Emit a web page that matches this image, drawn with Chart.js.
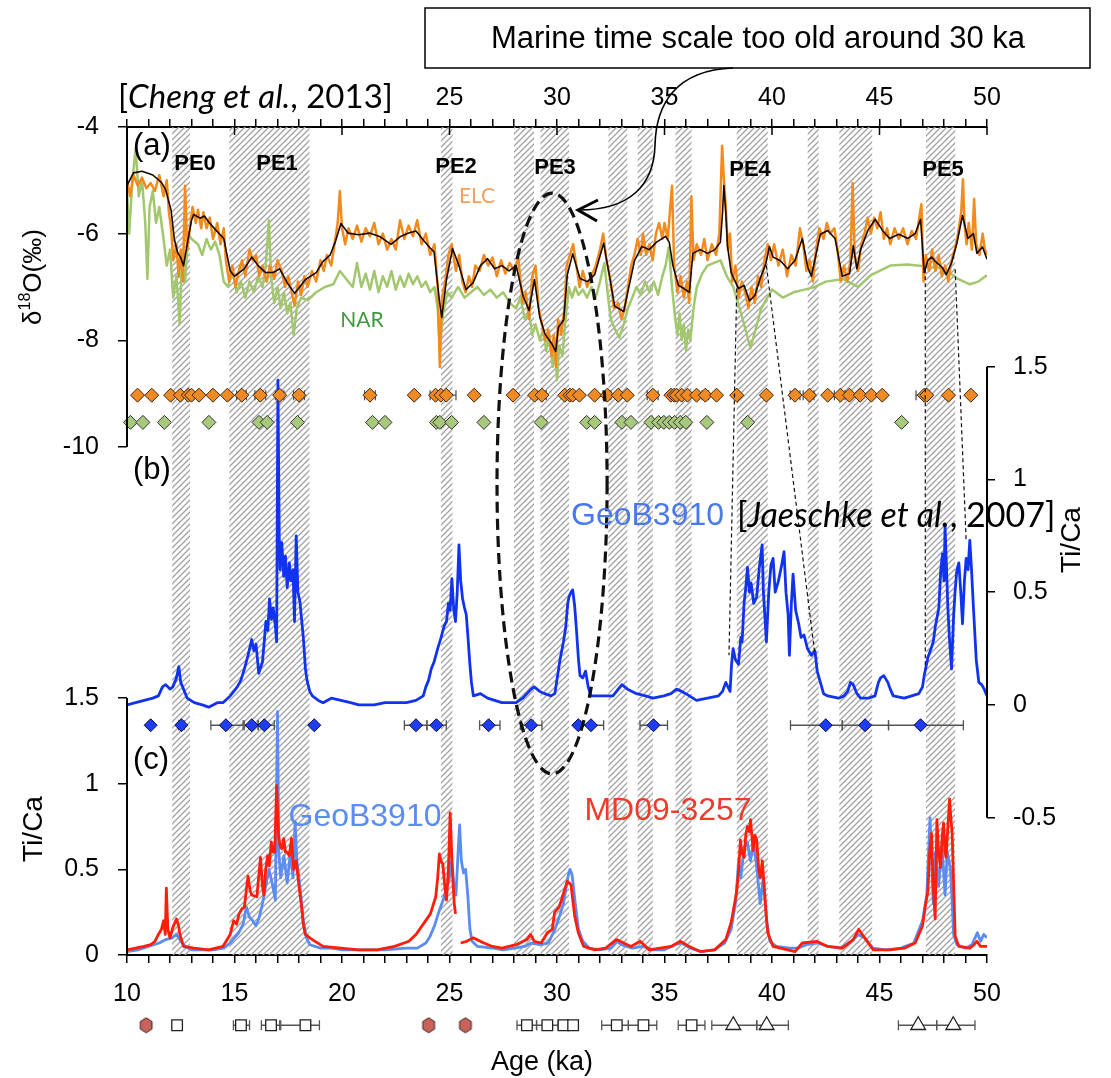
<!DOCTYPE html>
<html>
<head>
<meta charset="utf-8">
<script src="https://cdn.jsdelivr.net/npm/chart.js@4.4.1/dist/chart.umd.min.js"></script>
<style>
  html, body { margin: 0; padding: 0; background: #fff; }
  #c { display: block; }
</style>
</head>
<body>
<canvas id="c" width="1111" height="1078"></canvas>
<script>
// ---- tick labels ----
const ageTicks = [10, 15, 20, 25, 30, 35, 40, 45, 50];
const d18OTicks = [-10, -8, -6, -4];
const tiCaTicksB = [-0.5, 0, 0.5, 1, 1.5];
const tiCaTicksC = [0, 0.5, 1, 1.5];

// ---- shaded (hatched) age intervals, ka ----
const ageBands = [[12.1, 12.93], [14.76, 18.49], [24.6, 25.14], [28.0, 28.93], [29.23, 30.56],
  [32.39, 33.27], [33.75, 34.46], [35.51, 36.26], [38.36, 39.8], [41.66, 42.17], [43.13, 44.66], [47.16, 48.52]];

// ---- (a) speleothem d18O, [age ka, permil] ----
const elcSmooth = [[10.0,-5.1],[10.3,-4.86],[10.7,-4.83],[11.2,-4.9],[11.6,-5.04],[11.8,-5.18],[12.05,-5.56],[12.2,-6.1],[12.35,-6.35],[12.5,-6.45],[12.63,-6.6],[12.8,-6.2],[13.0,-5.75],[13.1,-5.64],[13.4,-5.71],[13.6,-5.67],[13.8,-5.78],[14.1,-5.92],[14.5,-6.09],[14.8,-6.7],[15.0,-6.8],[15.45,-6.66],[15.8,-6.44],[16.1,-6.6],[16.45,-6.73],[16.8,-6.73],[17.1,-6.66],[17.45,-6.92],[17.8,-7.12],[18.05,-6.99],[18.3,-6.86],[18.8,-6.73],[19.1,-6.53],[19.45,-6.4],[19.7,-6.14],[19.95,-5.81],[20.28,-5.99],[20.78,-6.02],[21.28,-5.99],[21.78,-6.06],[22.28,-6.2],[22.7,-6.06],[23.1,-5.99],[23.44,-5.95],[23.8,-6.13],[24.1,-6.27],[24.28,-6.34],[24.53,-7.25],[24.64,-7.57],[24.86,-6.86],[25.14,-6.28],[25.44,-6.6],[25.77,-7.05],[26.1,-6.92],[26.44,-6.6],[26.77,-6.47],[27.1,-6.66],[27.44,-6.6],[27.77,-6.7],[28.1,-6.6],[28.43,-7.18],[28.7,-7.44],[28.95,-6.86],[29.2,-7.57],[29.45,-7.89],[29.78,-8.08],[29.94,-8.21],[30.06,-7.76],[30.31,-7.62],[30.48,-6.77],[30.73,-6.38],[31.07,-6.84],[31.41,-6.9],[31.75,-6.77],[32.17,-6.18],[32.43,-6.77],[32.68,-7.36],[33.1,-7.46],[33.36,-6.97],[33.61,-6.5],[33.95,-6.24],[34.29,-6.3],[34.63,-6.16],[35.05,-6.05],[35.22,-6.16],[35.39,-6.6],[35.65,-6.97],[35.9,-7.03],[36.16,-7.1],[36.32,-6.37],[36.66,-6.3],[37.0,-6.37],[37.34,-6.3],[37.6,-6.16],[37.7,-5.6],[37.76,-5.1],[37.85,-5.6],[37.93,-6.23],[38.1,-6.73],[38.44,-7.03],[38.7,-6.97],[38.95,-7.26],[39.2,-7.16],[39.46,-6.83],[39.71,-6.57],[39.88,-6.24],[40.05,-6.44],[40.39,-6.51],[40.73,-6.66],[41.07,-6.5],[41.41,-6.09],[41.66,-6.62],[41.83,-6.8],[42.25,-6.01],[42.59,-5.94],[42.93,-6.09],[43.27,-6.8],[43.61,-6.75],[43.78,-6.23],[43.95,-6.66],[44.12,-6.3],[44.46,-5.94],[44.8,-5.73],[45.14,-5.94],[45.47,-6.09],[45.9,-6.01],[46.32,-6.09],[46.66,-6.0],[46.91,-5.73],[47.08,-6.73],[47.25,-6.5],[47.42,-6.44],[47.67,-6.55],[47.93,-6.64],[48.1,-6.77],[48.35,-6.55],[48.6,-6.18],[48.86,-5.66],[49.11,-6.09],[49.37,-6.0],[49.53,-6.37],[49.79,-6.25],[50.0,-6.48]];

const elcO18 = [[10.0,-5.0],[10.15,-5.3],[10.3,-4.9],[10.5,-5.1],[10.7,-4.95],[10.9,-5.15],[11.1,-5.05],[11.3,-5.2],[11.5,-4.9],[11.7,-5.3],[11.85,-5.0],[11.95,-5.6],[12.05,-5.9],[12.15,-6.5],[12.3,-6.2],[12.4,-6.8],[12.5,-6.3],[12.6,-6.9],[12.7,-5.1],[12.8,-6.3],[12.95,-5.8],[13.05,-5.5],[13.2,-5.8],[13.3,-5.55],[13.45,-5.9],[13.55,-5.6],[13.7,-5.9],[13.85,-5.7],[14.0,-6.1],[14.2,-5.8],[14.35,-6.2],[14.5,-5.9],[14.6,-6.5],[14.75,-6.9],[14.9,-6.6],[15.05,-7.0],[15.2,-6.7],[15.35,-6.5],[15.5,-6.8],[15.7,-6.3],[15.85,-6.5],[16.0,-6.4],[16.15,-6.8],[16.3,-6.6],[16.5,-6.9],[16.65,-6.6],[16.85,-6.85],[17.0,-6.5],[17.2,-6.7],[17.35,-7.0],[17.5,-6.8],[17.65,-7.1],[17.8,-7.35],[17.95,-6.9],[18.1,-7.15],[18.25,-6.8],[18.4,-7.0],[18.6,-6.7],[18.8,-6.9],[19.0,-6.5],[19.15,-6.7],[19.3,-6.4],[19.5,-6.6],[19.65,-6.2],[19.8,-5.8],[19.9,-5.2],[20.0,-5.9],[20.15,-6.2],[20.3,-5.9],[20.5,-6.1],[20.7,-5.85],[20.9,-6.15],[21.1,-5.9],[21.3,-6.05],[21.5,-5.8],[21.7,-6.2],[21.9,-6.0],[22.1,-6.3],[22.3,-6.1],[22.5,-6.3],[22.7,-5.75],[22.9,-6.1],[23.1,-5.85],[23.3,-6.05],[23.5,-5.75],[23.7,-6.2],[23.9,-6.0],[24.1,-6.4],[24.3,-6.2],[24.45,-7.0],[24.55,-8.5],[24.65,-7.2],[24.8,-6.9],[24.95,-6.4],[25.1,-6.2],[25.3,-6.7],[25.45,-6.4],[25.6,-6.9],[25.75,-7.1],[25.9,-6.8],[26.05,-7.0],[26.2,-6.6],[26.4,-6.7],[26.6,-6.4],[26.8,-6.6],[27.0,-6.45],[27.2,-6.8],[27.4,-6.5],[27.6,-6.75],[27.8,-6.55],[28.0,-6.7],[28.2,-6.45],[28.4,-7.3],[28.55,-7.1],[28.7,-7.6],[28.85,-6.8],[29.0,-6.6],[29.15,-7.4],[29.3,-7.7],[29.45,-8.0],[29.6,-7.8],[29.75,-8.3],[29.85,-7.9],[29.95,-8.5],[30.05,-7.6],[30.2,-7.9],[30.35,-7.4],[30.45,-6.6],[30.6,-6.4],[30.75,-6.2],[30.9,-6.6],[31.05,-7.0],[31.2,-6.7],[31.4,-7.0],[31.6,-6.8],[31.8,-6.6],[32.0,-6.3],[32.15,-6.0],[32.3,-6.5],[32.5,-6.9],[32.65,-7.4],[32.85,-7.3],[33.0,-7.6],[33.15,-7.4],[33.3,-7.0],[33.45,-6.6],[33.6,-6.4],[33.75,-6.1],[33.9,-6.4],[34.0,-6.0],[34.15,-6.4],[34.3,-6.2],[34.45,-6.5],[34.6,-6.0],[34.75,-5.8],[34.9,-6.1],[35.0,-5.8],[35.15,-6.1],[35.35,-5.1],[35.45,-6.6],[35.6,-7.1],[35.75,-6.8],[35.9,-7.2],[36.05,-6.9],[36.15,-7.3],[36.25,-5.3],[36.35,-6.5],[36.5,-6.2],[36.7,-6.4],[36.85,-6.1],[37.0,-6.5],[37.2,-6.2],[37.4,-6.4],[37.55,-6.0],[37.68,-4.35],[37.75,-4.9],[37.85,-5.5],[37.95,-6.3],[38.05,-6.0],[38.15,-6.9],[38.3,-6.6],[38.45,-7.2],[38.6,-6.9],[38.75,-7.1],[38.9,-7.4],[39.05,-7.0],[39.2,-7.3],[39.35,-6.8],[39.5,-7.0],[39.65,-6.5],[39.8,-6.2],[39.95,-6.5],[40.1,-6.2],[40.3,-6.6],[40.5,-6.3],[40.7,-6.8],[40.9,-6.4],[41.1,-6.6],[41.3,-5.9],[41.45,-6.2],[41.6,-6.7],[41.75,-6.5],[41.9,-6.9],[42.05,-6.3],[42.2,-5.9],[42.4,-6.1],[42.55,-5.8],[42.7,-6.0],[42.9,-5.9],[43.05,-6.3],[43.2,-6.9],[43.35,-6.6],[43.5,-6.9],[43.65,-6.5],[43.75,-5.05],[43.85,-6.4],[44.0,-6.7],[44.15,-6.2],[44.3,-6.0],[44.45,-5.7],[44.6,-6.0],[44.75,-5.7],[44.9,-5.9],[45.05,-5.6],[45.2,-6.1],[45.35,-5.9],[45.5,-6.2],[45.7,-5.9],[45.9,-6.1],[46.1,-5.9],[46.3,-6.2],[46.5,-5.95],[46.7,-6.1],[46.85,-5.7],[46.95,-5.45],[47.05,-6.9],[47.15,-6.4],[47.3,-6.7],[47.45,-6.3],[47.6,-6.7],[47.75,-6.4],[47.9,-6.8],[48.05,-6.6],[48.2,-6.9],[48.35,-6.5],[48.5,-6.3],[48.65,-6.0],[48.8,-5.6],[48.88,-4.98],[48.95,-5.8],[49.05,-6.2],[49.15,-5.8],[49.3,-6.3],[49.4,-5.35],[49.5,-6.2],[49.65,-6.4],[49.8,-6.0],[49.9,-6.3],[50.0,-6.4]];

const narO18 = [[10.0,-5.2],[10.1,-6.0],[10.25,-5.0],[10.4,-4.4],[10.55,-5.3],[10.7,-5.0],[10.85,-5.8],[10.95,-6.85],[11.05,-5.5],[11.2,-5.2],[11.35,-5.8],[11.5,-5.5],[11.7,-6.1],[11.85,-6.6],[12.0,-6.3],[12.15,-7.2],[12.3,-6.8],[12.45,-7.7],[12.55,-6.5],[12.7,-6.9],[12.85,-6.0],[13.0,-6.1],[13.3,-6.2],[13.5,-6.4],[13.7,-6.1],[13.9,-6.3],[14.1,-6.15],[14.3,-6.4],[14.5,-6.9],[14.7,-7.0],[14.9,-6.7],[15.1,-7.1],[15.3,-6.9],[15.5,-7.2],[15.7,-6.9],[15.9,-7.1],[16.1,-6.8],[16.3,-7.0],[16.45,-6.6],[16.6,-5.75],[16.7,-6.8],[16.85,-7.3],[17.0,-7.0],[17.15,-7.4],[17.3,-7.1],[17.45,-7.5],[17.6,-7.3],[17.75,-7.9],[17.9,-7.4],[18.1,-7.2],[18.4,-7.25],[18.8,-7.1],[19.2,-7.0],[19.6,-6.95],[19.9,-6.7],[20.2,-6.85],[20.5,-7.0],[20.7,-6.55],[20.9,-7.0],[21.1,-6.75],[21.3,-7.05],[21.5,-6.7],[21.7,-7.1],[21.9,-6.8],[22.1,-7.0],[22.3,-6.7],[22.5,-7.05],[22.7,-6.8],[22.9,-7.0],[23.1,-6.75],[23.3,-6.95],[23.5,-6.8],[23.7,-7.0],[23.9,-6.9],[24.1,-7.1],[24.3,-7.0],[24.45,-7.4],[24.55,-8.15],[24.7,-7.5],[24.9,-7.1],[25.1,-7.2],[25.4,-7.0],[25.7,-7.2],[26.0,-7.1],[26.3,-7.0],[26.6,-7.15],[26.9,-7.05],[27.2,-7.2],[27.5,-7.1],[27.8,-7.3],[28.1,-7.4],[28.3,-7.2],[28.5,-7.6],[28.7,-7.5],[28.85,-7.9],[29.0,-7.7],[29.2,-8.0],[29.35,-7.8],[29.5,-8.2],[29.65,-7.9],[29.8,-8.5],[29.9,-8.0],[30.0,-8.75],[30.1,-8.1],[30.25,-8.3],[30.4,-7.6],[30.55,-7.0],[30.7,-7.2],[30.85,-7.0],[31.0,-7.15],[31.2,-7.05],[31.4,-7.2],[31.6,-7.0],[31.8,-7.2],[32.0,-6.9],[32.2,-6.55],[32.35,-7.1],[32.5,-7.6],[32.7,-7.8],[32.9,-7.95],[33.1,-7.7],[33.3,-7.4],[33.5,-7.2],[33.7,-7.0],[33.9,-7.15],[34.1,-6.9],[34.3,-7.1],[34.5,-6.9],[34.7,-7.15],[34.9,-6.8],[35.05,-6.6],[35.2,-6.25],[35.35,-7.0],[35.5,-7.6],[35.6,-7.9],[35.7,-7.5],[35.8,-8.0],[35.9,-7.7],[36.0,-8.2],[36.1,-7.8],[36.2,-8.0],[36.35,-7.4],[36.5,-7.0],[36.75,-6.75],[37.0,-6.6],[37.3,-6.55],[37.6,-6.5],[37.9,-6.8],[38.2,-7.0],[38.6,-7.55],[39.0,-8.15],[39.5,-7.4],[40.0,-7.05],[40.5,-7.2],[41.0,-7.1],[41.5,-7.05],[42.0,-7.0],[42.5,-6.9],[43.3,-6.85],[44.0,-7.0],[44.6,-6.78],[45.5,-6.6],[46.3,-6.58],[47.3,-6.62],[48.0,-6.65],[48.6,-6.84],[49.2,-6.95],[49.6,-6.9],[50.0,-6.78]];

// ---- (b) GeoB3910 Ti/Ca, original age model ----
const geoTiCaB = [[10.0,0.0],[10.4,0.01],[10.8,0.02],[11.2,0.03],[11.46,0.04],[11.65,0.08],[11.8,0.09],[12.0,0.07],[12.13,0.08],[12.3,0.12],[12.41,0.17],[12.5,0.1],[12.63,0.07],[12.8,0.03],[13.13,0.01],[13.5,0.0],[13.8,-0.01],[14.2,0.01],[14.46,0.01],[14.8,0.04],[15.13,0.08],[15.3,0.11],[15.46,0.16],[15.63,0.22],[15.8,0.29],[15.9,0.24],[16.0,0.27],[16.13,0.14],[16.3,0.19],[16.4,0.3],[16.46,0.37],[16.55,0.33],[16.63,0.47],[16.72,0.38],[16.8,0.43],[16.9,0.35],[16.96,0.28],[17.02,1.44],[17.08,0.75],[17.12,0.6],[17.2,0.72],[17.29,0.57],[17.37,0.66],[17.45,0.52],[17.55,0.63],[17.62,0.55],[17.72,0.6],[17.79,0.37],[17.87,0.75],[17.95,0.5],[18.04,0.46],[18.12,0.38],[18.2,0.3],[18.3,0.16],[18.37,0.11],[18.5,0.06],[18.62,0.04],[18.9,0.02],[19.12,0.01],[19.5,0.03],[19.95,0.02],[20.4,0.01],[20.78,0.0],[21.5,0.0],[22.0,0.01],[22.45,0.01],[23.0,0.01],[23.44,0.02],[23.78,0.04],[23.9,0.08],[24.03,0.11],[24.15,0.16],[24.28,0.19],[24.45,0.25],[24.61,0.3],[24.75,0.35],[24.86,0.37],[24.95,0.45],[25.03,0.42],[25.11,0.56],[25.2,0.42],[25.28,0.37],[25.36,0.5],[25.44,0.71],[25.52,0.55],[25.61,0.47],[25.7,0.43],[25.78,0.4],[25.86,0.3],[25.94,0.19],[26.02,0.1],[26.11,0.04],[26.44,0.05],[26.77,0.03],[27.1,0.02],[27.44,0.01],[28.1,0.01],[28.4,0.03],[28.6,0.05],[28.8,0.07],[28.94,0.08],[29.2,0.06],[29.43,0.05],[29.72,0.04],[29.9,0.05],[30.14,0.2],[30.3,0.28],[30.4,0.34],[30.5,0.45],[30.56,0.48],[30.65,0.5],[30.73,0.51],[30.82,0.44],[30.9,0.34],[31.0,0.2],[31.07,0.13],[31.2,0.12],[31.33,0.15],[31.45,0.08],[31.58,0.04],[32.09,0.04],[32.6,0.04],[32.85,0.07],[33.02,0.09],[33.15,0.08],[33.28,0.07],[33.7,0.05],[34.12,0.04],[34.46,0.03],[34.97,0.04],[35.3,0.05],[35.56,0.07],[35.8,0.06],[35.99,0.05],[36.49,0.02],[37.0,0.03],[37.51,0.04],[37.7,0.06],[37.85,0.1],[37.95,0.08],[38.05,0.06],[38.12,0.18],[38.19,0.25],[38.3,0.2],[38.44,0.18],[38.55,0.3],[38.61,0.28],[38.7,0.45],[38.78,0.52],[38.86,0.61],[38.95,0.5],[39.03,0.54],[39.15,0.45],[39.29,0.48],[39.4,0.6],[39.54,0.71],[39.6,0.5],[39.74,0.28],[39.85,0.5],[39.95,0.62],[40.05,0.65],[40.15,0.5],[40.3,0.55],[40.45,0.62],[40.56,0.68],[40.65,0.5],[40.75,0.4],[40.81,0.22],[40.9,0.45],[40.98,0.58],[41.1,0.42],[41.24,0.36],[41.35,0.3],[41.49,0.31],[41.65,0.25],[41.83,0.22],[42.0,0.24],[42.1,0.15],[42.25,0.1],[42.4,0.05],[42.59,0.04],[43.1,0.03],[43.35,0.04],[43.52,0.06],[43.65,0.1],[43.78,0.09],[43.95,0.05],[44.12,0.03],[44.5,0.03],[44.79,0.04],[44.95,0.1],[45.05,0.12],[45.2,0.13],[45.39,0.1],[45.5,0.07],[45.64,0.04],[46.15,0.03],[46.5,0.04],[46.83,0.05],[47.0,0.08],[47.08,0.13],[47.25,0.21],[47.4,0.25],[47.5,0.28],[47.6,0.35],[47.76,0.43],[47.85,0.6],[47.93,0.67],[48.0,0.55],[48.05,0.79],[48.12,0.6],[48.18,0.43],[48.25,0.3],[48.35,0.16],[48.45,0.4],[48.52,0.51],[48.6,0.6],[48.69,0.63],[48.78,0.5],[48.86,0.36],[48.95,0.55],[49.03,0.65],[49.12,0.6],[49.2,0.73],[49.28,0.6],[49.37,0.43],[49.5,0.2],[49.62,0.1],[49.75,0.09],[49.87,0.07],[50.0,0.04]];

// ---- (c) Ti/Ca on the new age model ----
const geoTiCaC = [[10.0,0.02],[10.5,0.03],[11.0,0.05],[11.5,0.07],[11.8,0.09],[12.1,0.1],[12.3,0.12],[12.5,0.08],[12.7,0.05],[13.0,0.03],[13.5,0.03],[14.0,0.03],[14.5,0.04],[14.8,0.07],[15.0,0.1],[15.2,0.13],[15.4,0.18],[15.55,0.28],[15.7,0.22],[15.85,0.2],[16.0,0.17],[16.15,0.22],[16.3,0.3],[16.45,0.4],[16.6,0.5],[16.75,0.42],[16.9,0.32],[17.0,1.42],[17.06,0.6],[17.15,0.45],[17.3,0.58],[17.45,0.42],[17.6,0.6],[17.72,0.45],[17.82,0.78],[17.9,0.55],[18.0,0.45],[18.1,0.33],[18.2,0.2],[18.35,0.1],[18.5,0.06],[19.0,0.04],[19.5,0.04],[20.0,0.03],[21.0,0.03],[22.0,0.03],[23.0,0.04],[23.5,0.04],[23.9,0.07],[24.1,0.11],[24.3,0.17],[24.5,0.25],[24.7,0.32],[24.85,0.38],[25.0,0.45],[25.1,0.55],[25.2,0.42],[25.3,0.35],[25.4,0.6],[25.47,0.76],[25.55,0.55],[25.65,0.48],[25.75,0.5],[25.85,0.35],[25.95,0.15],[26.05,0.08],[26.3,0.05],[27.0,0.04],[27.5,0.03],[28.0,0.04],[28.5,0.05],[28.8,0.07],[29.2,0.06],[29.6,0.07],[29.9,0.15],[30.1,0.22],[30.3,0.3],[30.5,0.45],[30.6,0.5],[30.7,0.47],[30.85,0.3],[31.0,0.15],[31.2,0.08],[31.5,0.04],[32.0,0.03],[32.5,0.04],[32.8,0.08],[33.0,0.06],[33.5,0.04],[34.0,0.05],[34.5,0.03],[35.0,0.03],[35.5,0.06],[35.8,0.07],[36.2,0.04],[36.7,0.02],[37.3,0.03],[37.8,0.07],[38.1,0.15],[38.3,0.3],[38.45,0.55],[38.55,0.45],[38.7,0.62],[38.85,0.66],[39.0,0.55],[39.15,0.66],[39.3,0.5],[39.45,0.3],[39.6,0.45],[39.75,0.2],[39.9,0.08],[40.2,0.05],[40.8,0.04],[41.2,0.04],[41.6,0.06],[42.1,0.07],[42.6,0.05],[43.2,0.04],[43.7,0.08],[44.0,0.12],[44.3,0.1],[44.7,0.04],[45.3,0.03],[46.0,0.04],[46.6,0.07],[47.0,0.2],[47.2,0.35],[47.35,0.8],[47.5,0.3],[47.6,0.6],[47.75,0.4],[47.9,0.65],[48.05,0.35],[48.15,0.6],[48.3,0.5],[48.45,0.12],[48.6,0.06],[49.0,0.04],[49.3,0.06],[49.55,0.13],[49.7,0.08],[49.85,0.12],[50.0,0.1]];

const mdTiCa = [[10.0,0.03],[10.4,0.04],[10.8,0.05],[11.1,0.06],[11.3,0.08],[11.46,0.12],[11.6,0.15],[11.7,0.2],[11.78,0.12],[11.83,0.39],[11.9,0.15],[12.0,0.1],[12.13,0.16],[12.3,0.21],[12.4,0.17],[12.46,0.12],[12.63,0.05],[13.13,0.04],[13.8,0.03],[14.46,0.05],[14.8,0.12],[14.96,0.2],[15.1,0.18],[15.21,0.24],[15.35,0.27],[15.46,0.28],[15.55,0.38],[15.63,0.46],[15.72,0.38],[15.8,0.35],[16.04,0.34],[16.12,0.45],[16.21,0.57],[16.3,0.4],[16.37,0.35],[16.45,0.5],[16.54,0.58],[16.62,0.52],[16.71,0.66],[16.8,0.6],[16.87,0.6],[16.96,0.99],[17.05,0.7],[17.12,0.64],[17.2,0.62],[17.29,0.68],[17.37,0.6],[17.45,0.6],[17.55,0.58],[17.65,0.68],[17.75,0.5],[17.87,0.55],[18.0,0.4],[18.12,0.28],[18.2,0.18],[18.29,0.12],[18.62,0.09],[19.12,0.05],[19.95,0.04],[20.78,0.03],[21.61,0.03],[22.45,0.05],[23.11,0.08],[23.44,0.12],[23.78,0.18],[24.11,0.24],[24.36,0.34],[24.45,0.45],[24.53,0.59],[24.6,0.55],[24.69,0.53],[24.78,0.4],[24.86,0.32],[24.95,0.5],[25.03,0.83],[25.1,0.6],[25.16,0.43],[25.22,0.3],[25.28,0.24],[25.4,null],[25.52,0.07],[25.8,0.08],[26.11,0.1],[26.6,0.07],[27.0,0.05],[27.44,0.04],[28.1,0.06],[28.6,0.09],[28.77,0.12],[28.94,0.08],[29.27,0.07],[29.55,0.13],[29.78,0.15],[29.89,0.25],[30.1,0.28],[30.23,0.33],[30.35,0.38],[30.48,0.43],[30.65,0.41],[30.82,0.23],[30.99,0.13],[31.24,0.05],[31.75,0.03],[32.26,0.04],[32.77,0.09],[33.1,0.07],[33.44,0.05],[33.87,0.08],[34.29,0.03],[34.8,0.04],[35.31,0.05],[35.73,0.08],[36.15,0.05],[36.66,0.02],[37.34,0.03],[37.85,0.09],[38.1,0.19],[38.36,0.37],[38.45,0.5],[38.53,0.67],[38.6,0.6],[38.7,0.57],[38.78,0.7],[38.86,0.75],[38.95,0.72],[39.0,0.79],[39.12,0.61],[39.2,0.7],[39.29,0.67],[39.38,0.5],[39.46,0.45],[39.55,0.55],[39.63,0.41],[39.72,0.25],[39.8,0.13],[40.05,0.05],[40.73,0.03],[41.07,0.02],[41.41,0.07],[42.08,0.08],[42.59,0.05],[43.27,0.04],[43.78,0.09],[44.03,0.15],[44.2,0.12],[44.37,0.09],[44.71,0.03],[45.47,0.03],[46.15,0.04],[46.66,0.07],[47.0,0.17],[47.15,0.3],[47.25,0.37],[47.33,0.6],[47.42,0.71],[47.5,0.4],[47.59,0.21],[47.67,0.79],[47.75,0.6],[47.84,0.51],[47.92,0.7],[47.98,0.77],[48.05,0.6],[48.1,0.57],[48.18,0.75],[48.26,0.91],[48.32,0.8],[48.38,0.71],[48.45,0.4],[48.52,0.11],[48.69,0.05],[49.2,0.04],[49.4,0.06],[49.53,0.08],[49.7,0.05],[49.9,0.05],[50.0,0.05]];

// ---- dating points: [age, lower, upper] (bounds only where an error bar shows) ----
const elcDates = [[10.49],[11.15],[12.03],[12.48],[12.85],[13.0],[13.35],[14.0],[14.67],[15.34,15.1,15.55],[16.2,15.95,16.45],[17.1,16.9,17.3],[18.0,17.75,18.25],[21.3,21.05,21.55],[23.36],[24.35,24.1,24.6],[24.6],[24.85,24.6,25.3],[26.15],[27.96],[28.96],[29.3,29.1,29.5],[30.36],[30.6],[30.73],[31.04],[31.75],[32.34,32.15,32.5],[32.85],[33.27],[34.46,34.2,34.7],[35.3],[35.45],[35.56],[35.8],[36.07],[36.49],[36.9,36.75,37.05],[37.42],[38.36],[39.74],[41.07,40.85,41.3],[41.74,41.45,41.95],[42.59],[43.18,42.9,43.4],[43.6],[44.1],[44.62],[45.13],[47.08,46.7,47.3],[47.2],[48.21],[49.25]];
const narDates = [[10.16],[10.74],[11.74],[13.81],[16.14],[16.52],[17.93],[21.42],[22.0],[24.39],[24.55],[25.1],[26.6],[29.26],[31.38],[31.75],[33.02],[33.44],[34.37],[34.72],[34.97],[35.22],[35.47],[35.73],[35.99],[36.97],[38.87],[46.03]];
const geoDates = [[11.1],[12.53,12.4,12.66],[14.6,13.9,15.4],[15.8,15.45,16.1],[16.39,16.1,16.85],[18.71],[23.44,22.9,23.95],[24.39,23.95,24.85],[26.82,26.4,27.35],[28.8,28.3,29.3],[30.99],[31.58,31.1,32.17],[34.49,33.86,35.14],[42.5,40.86,43.27],[44.33,43.27,45.42],[46.91,45.42,48.9]];
const mdC14Dates = [[10.89],[24.03],[25.74]];
const mdTieSquares = [[12.33],[15.3,14.95,15.7],[16.7,16.25,17.1],[18.3,17.15,18.95],[28.6,28.14,29.05],[29.55,29.05,30.05],[30.3],[30.75],[32.78,32.08,33.32],[34.02,33.32,34.64],[36.26,35.64,36.88]];
const mdTieTriangles = [[38.2,37.2,39.29],[39.75,39.29,40.76],[46.8,45.88,47.66],[48.43,47.66,49.44]];

// ---- guide lines between panels (a) and (b): [age_a, d18O, age_b, Ti/Ca] ----
const guideLinks = [[38.36,-7.03,38.0,0.22],[39.74,-6.6,42.0,0.22],[47.13,-6.67,47.13,0.16],[48.52,-6.67,49.03,0.73]];

// ---- axis geometry (panels share one plot area, each axis covers part of it) ----
const D18O_MIN = -19.53, D18O_MAX = -4;
const TICA_B_MIN = -1.109, TICA_B_MAX = 2.563;
const TICA_C_MIN = 0, TICA_C_MAX = 4.833;
const ELC_ROW = -9.03, NAR_ROW = -9.54, GEO_ROW = -0.09, MD_ROW = -0.41;

const FONT = 'Liberation Sans';

function pts(arr) { return arr.map(d => ({ x: d[0], y: d[1] })); }
function row(arr, yv) { return arr.map(d => ({ x: d[0], y: yv })); }
function bars(arr) { return arr.map(d => d.length > 1 ? [d[1], d[2]] : null); }

function hexagon() {
  const c = document.createElement('canvas');
  c.width = 16; c.height = 17;
  const g = c.getContext('2d');
  g.beginPath();
  for (let k = 0; k < 6; k++) {
    const a = Math.PI / 2 + k * Math.PI / 3;
    const px = 8 + 6.8 * Math.cos(a), py = 8.5 - 7.5 * Math.sin(a);
    k ? g.lineTo(px, py) : g.moveTo(px, py);
  }
  g.closePath();
  g.fillStyle = '#c8625a'; g.fill();
  g.strokeStyle = '#3a2020'; g.lineWidth = 1; g.stroke();
  return c;
}

function lineSet(data, color, width, yAxisID) {
  return { data: pts(data), yAxisID, xAxisID: 'x', showLine: true, borderColor: color,
    borderWidth: width, pointRadius: 0, tension: 0, spanGaps: false, borderJoinStyle: 'round' };
}
function markSet(dates, yv, yAxisID, style) {
  return Object.assign({ data: row(dates, yv), xerr: bars(dates), yAxisID, xAxisID: 'x',
    showLine: false, clip: false }, style);
}

// first dataset is drawn on top
const datasets = [
  markSet(elcDates, ELC_ROW, 'ya', { pointStyle: 'rectRot', pointRadius: 7, backgroundColor: '#f08a24', borderColor: '#3a2410', borderWidth: 1 }),
  markSet(narDates, NAR_ROW, 'ya', { pointStyle: 'rectRot', pointRadius: 7, backgroundColor: '#a8c87c', borderColor: '#333', borderWidth: 1 }),
  markSet(geoDates, GEO_ROW, 'yb', { pointStyle: 'rectRot', pointRadius: 6.5, backgroundColor: '#1e3cf0', borderColor: '#0a0a50', borderWidth: 1 }),
  markSet(mdC14Dates, MD_ROW, 'yc', { pointStyle: hexagon(), pointRadius: 7, belowAxis: true }),
  markSet(mdTieSquares, MD_ROW, 'yc', { pointStyle: 'rect', pointRadius: 7.5, backgroundColor: '#fff', borderColor: '#222', borderWidth: 1.3, belowAxis: true }),
  markSet(mdTieTriangles, MD_ROW, 'yc', { pointStyle: 'triangle', pointRadius: 8.5, backgroundColor: '#fff', borderColor: '#222', borderWidth: 1.3, belowAxis: true }),
  lineSet(elcSmooth, '#1a0800', 1.6, 'ya'),
  lineSet(elcO18, '#f28a1e', 2.5, 'ya'),
  lineSet(narO18, '#a3c76e', 2.5, 'ya'),
  lineSet(geoTiCaB, '#1233ee', 2.8, 'yb'),
  lineSet(mdTiCa, '#ff1e0a', 2.8, 'yc'),
  lineSet(geoTiCaC, '#5a8cf2', 2.8, 'yc')
];

// the (c) axis sits on top of the (a) axis: widen its box after layout so its labels are not clipped
const axisBoxPlugin = {
  id: 'axisBox',
  afterLayout(chart) {
    const s = chart.scales.yc;
    s.left = 0;
    s.width = s.right;
  }
};

let hatchPattern = null;
const bandsPlugin = {
  id: 'bands',
  beforeDatasetsDraw(chart) {
    const { ctx, chartArea, scales } = chart;
    if (!hatchPattern) {
      const c = document.createElement('canvas');
      c.width = c.height = 6;
      const g = c.getContext('2d');
      g.strokeStyle = '#a2a2a2'; g.lineWidth = 1.3;
      g.beginPath();
      g.moveTo(0, 6); g.lineTo(6, 0);
      g.moveTo(-3, 3); g.lineTo(3, -3);
      g.moveTo(3, 9); g.lineTo(9, 3);
      g.stroke();
      hatchPattern = ctx.createPattern(c, 'repeat');
    }
    ctx.save();
    ctx.fillStyle = hatchPattern;
    ageBands.forEach(([a, b]) => {
      const x1 = scales.x.getPixelForValue(a), x2 = scales.x.getPixelForValue(b);
      ctx.fillRect(x1, chartArea.top, x2 - x1, chartArea.bottom - chartArea.top);
    });
    ctx.restore();
  }
};

const errorBarPlugin = {
  id: 'errorBars',
  beforeDatasetsDraw(chart) {
    const { ctx } = chart;
    ctx.save();
    ctx.strokeStyle = '#555'; ctx.lineWidth = 1.3;
    chart.data.datasets.forEach((ds, i) => {
      if (!ds.xerr) return;
      const meta = chart.getDatasetMeta(i);
      const xs = chart.scales[meta.xAxisID], ys = chart.scales[meta.yAxisID];
      ds.data.forEach((p, j) => {
        const e = ds.xerr[j];
        if (!e) return;
        const y = ys.getPixelForValue(p.y);
        const x1 = xs.getPixelForValue(e[0]), x2 = xs.getPixelForValue(e[1]);
        ctx.beginPath();
        ctx.moveTo(x1, y); ctx.lineTo(x2, y);
        ctx.moveTo(x1, y - 5); ctx.lineTo(x1, y + 5);
        ctx.moveTo(x2, y - 5); ctx.lineTo(x2, y + 5);
        ctx.stroke();
      });
    });
    ctx.restore();
  },
  afterDatasetsDraw(chart) {
    // markers below the age axis lie outside the plot area, so draw their elements against the whole canvas
    const full = { left: 0, top: 0, right: chart.width, bottom: chart.height };
    chart.data.datasets.forEach((ds, i) => {
      if (!ds.belowAxis) return;
      chart.getDatasetMeta(i).data.forEach(el => el.draw(chart.ctx, full));
    });
  }
};

// text drawn in pieces: [text, font, dy]
function rich(ctx, segs, x, y, align, rot) {
  ctx.save();
  ctx.translate(x, y);
  if (rot) ctx.rotate(rot);
  let total = 0;
  segs.forEach(s => { ctx.font = s[1]; total += ctx.measureText(s[0]).width; });
  let cx = align === 'center' ? -total / 2 : (align === 'right' ? -total : 0);
  ctx.textBaseline = 'middle';
  ctx.textAlign = 'left';
  segs.forEach(s => { ctx.font = s[1]; ctx.fillText(s[0], cx, s[2] || 0); cx += ctx.measureText(s[0]).width; });
  ctx.restore();
}

const overlayPlugin = {
  id: 'overlay',
  afterDatasetsDraw(chart) {
    const { ctx, scales } = chart;
    const X = v => scales.x.getPixelForValue(v);
    // dashed guides between (a) and (b)
    ctx.save();
    ctx.strokeStyle = '#111'; ctx.lineWidth = 1.2; ctx.setLineDash([4, 3]);
    guideLinks.forEach(g => {
      ctx.beginPath();
      ctx.moveTo(X(g[0]), scales.ya.getPixelForValue(g[1]));
      ctx.lineTo(X(g[2]), scales.yb.getPixelForValue(g[3]));
      ctx.stroke();
    });
    // dashed ellipse around 30 ka
    const cx = X(29.77), rx = X(29.77 + 2.56) - cx;
    const yTop = scales.yb.getPixelForValue(2.27), yBot = scales.yb.getPixelForValue(-0.306);
    ctx.lineWidth = 3.2; ctx.setLineDash([11, 6]);
    ctx.beginPath();
    ctx.ellipse(cx, (yTop + yBot) / 2, rx, (yBot - yTop) / 2, 0, 0, Math.PI * 2);
    ctx.stroke();
    ctx.restore();
  },
  afterDraw(chart) {
    const { ctx, scales, chartArea } = chart;
    const X = v => scales.x.getPixelForValue(v);
    ctx.save();
    ctx.strokeStyle = '#000'; ctx.lineWidth = 2;
    // partial spines
    ctx.beginPath();
    ctx.moveTo(chartArea.left, scales.ya.getPixelForValue(-4));
    ctx.lineTo(chartArea.left, scales.ya.getPixelForValue(-10));
    ctx.moveTo(chartArea.left, scales.yc.getPixelForValue(0));
    ctx.lineTo(chartArea.left, scales.yc.getPixelForValue(1.5));
    ctx.moveTo(chartArea.right, scales.yb.getPixelForValue(1.5));
    ctx.lineTo(chartArea.right, scales.yb.getPixelForValue(-0.5));
    ctx.stroke();
    // major ticks on the top axis also cross into the plot
    ctx.lineWidth = 1.5;
    ctx.beginPath();
    ageTicks.forEach(v => { ctx.moveTo(X(v), chartArea.top); ctx.lineTo(X(v), chartArea.top + 8); });
    ctx.stroke();

    // annotation box and arrow
    ctx.lineWidth = 1.5;
    ctx.fillStyle = '#fff';
    ctx.fillRect(425, 8, 665, 60);
    ctx.strokeRect(425, 8, 665, 60);
    ctx.fillStyle = '#000';
    rich(ctx, [['Marine time scale too old around 30 ka', '31px ' + FONT]], 758, 39, 'center');
    ctx.lineWidth = 1.6;
    ctx.beginPath();
    ctx.moveTo(733, 68);
    ctx.bezierCurveTo(675, 70, 656, 105, 655, 145);
    ctx.bezierCurveTo(654, 185, 630, 210, 579, 210);
    ctx.stroke();
    ctx.lineWidth = 3;
    ctx.beginPath();
    ctx.moveTo(598, 200); ctx.lineTo(578, 210); ctx.lineTo(597, 221);
    ctx.stroke();

    // citations
    rich(ctx, [['[', '33px Lato'], ['Cheng et al.', 'italic 33px Lato'], [', 2013]', '33px Lato']], 118, 97, 'left');
    ctx.fillStyle = '#4a78ee';
    rich(ctx, [['GeoB3910', '32px ' + FONT]], 571, 516, 'left');
    ctx.fillStyle = '#000';
    rich(ctx, [['[', '34px Lato'], ['Jaeschke et al.', 'italic 34px Lato'], [', 2007]', '34px Lato']], 737, 516, 'left');

    // panel letters and event labels
    ['(a)', '(b)', '(c)'].forEach((t, k) => rich(ctx, [[t, '31px ' + FONT]], 133, [146, 470, 760][k], 'left'));
    const pe = [['PE0', 195, 164], ['PE1', 277, 164], ['PE2', 456, 167], ['PE3', 555, 168], ['PE4', 750, 170], ['PE5', 943, 170]];
    pe.forEach(p => rich(ctx, [[p[0], 'bold 22px ' + FONT]], p[1], p[2], 'center'));

    ctx.fillStyle = '#f0a060';
    rich(ctx, [['ELC', '21px Lato']], 477, 196, 'center');
    ctx.fillStyle = '#3f9a3f';
    rich(ctx, [['NAR', '21px Lato']], 362, 320, 'center');
    ctx.fillStyle = '#5a8cf2';
    rich(ctx, [['GeoB3910', '32px ' + FONT]], 365, 817, 'center');
    ctx.fillStyle = '#f03a2a';
    rich(ctx, [['MD09-3257', '32px ' + FONT]], 668, 811, 'center');

    // axis titles
    ctx.fillStyle = '#000';
    rich(ctx, [['δ', '26px ' + FONT], ['18', '16px ' + FONT, -8], ['O(‰)', '26px ' + FONT]], 34, 277, 'center', -Math.PI / 2);
    rich(ctx, [['Ti/Ca', '28px ' + FONT]], 34, 829, 'center', -Math.PI / 2);
    rich(ctx, [['Ti/Ca', '28px ' + FONT]], 1072, 540, 'center', -Math.PI / 2);
    rich(ctx, [['Age (ka)', '27px ' + FONT]], 542, 1063, 'center');
    ctx.restore();
  }
};

const tickFont = { family: FONT, size: 25 };
const axisGrid = { drawOnChartArea: false, color: '#000', lineWidth: 1.5, tickLength: 8 };

new Chart(document.getElementById('c'), {
  type: 'scatter',
  data: { datasets },
  options: {
    responsive: false,
    animation: false,
    devicePixelRatio: 1,
    events: [],
    layout: { padding: 0, autoPadding: false },
    plugins: { legend: { display: false }, tooltip: { enabled: false } },
    scales: {
      x: {
        type: 'linear', position: 'bottom', min: 10, max: 50,
        ticks: { stepSize: 1, autoSkip: false, maxRotation: 0, color: '#000', font: tickFont, padding: 16,
          callback: v => ageTicks.includes(v) ? String(v) : '' },
        grid: axisGrid,
        border: { display: true, color: '#000', width: 2 },
        afterFit: s => { s.height = 123; }
      },
      x2: {
        type: 'linear', position: 'top', min: 10, max: 50,
        ticks: { stepSize: 1, autoSkip: false, maxRotation: 0, color: '#000', font: tickFont, padding: 6,
          callback: v => (ageTicks.includes(v) && v >= 25) ? String(v) : '' },
        grid: axisGrid,
        border: { display: true, color: '#000', width: 2 },
        afterFit: s => { s.height = 127; }
      },
      ya: {
        type: 'linear', position: 'left', weight: 1, min: D18O_MIN, max: D18O_MAX,
        afterBuildTicks: s => { s.ticks = d18OTicks.map(v => ({ value: v })); },
        ticks: { color: '#000', font: tickFont, padding: 19, callback: v => String(v) },
        grid: Object.assign({}, axisGrid, { tickLength: 9 }),
        border: { display: false },
        afterFit: s => { s.width = 127; }
      },
      yc: {
        type: 'linear', position: 'left', weight: 0, min: TICA_C_MIN, max: TICA_C_MAX,
        afterBuildTicks: s => { s.ticks = tiCaTicksC.map(v => ({ value: v })); },
        ticks: { color: '#000', font: tickFont, padding: 19, callback: v => String(v) },
        grid: Object.assign({}, axisGrid, { tickLength: 9 }),
        border: { display: false },
        afterFit: s => { s.width = 0; }
      },
      yb: {
        type: 'linear', position: 'right', min: TICA_B_MIN, max: TICA_B_MAX,
        afterBuildTicks: s => { s.ticks = tiCaTicksB.map(v => ({ value: v })); },
        ticks: { color: '#000', font: tickFont, padding: 18, callback: v => String(v) },
        grid: axisGrid,
        border: { display: false },
        afterFit: s => { s.width = 124; }
      }
    }
  },
  plugins: [axisBoxPlugin, bandsPlugin, errorBarPlugin, overlayPlugin]
});
</script>
</body>
</html>
